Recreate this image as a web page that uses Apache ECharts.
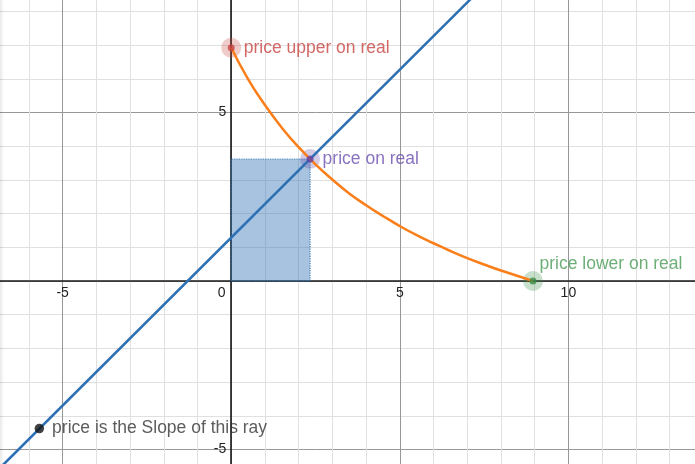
<!DOCTYPE html>
<html>
<head>
<meta charset="utf-8">
<script src="https://cdn.jsdelivr.net/npm/echarts@6/dist/echarts.min.js"></script>
<style>
html,body{margin:0;padding:0;background:#fff;width:695px;height:464px;overflow:hidden;position:relative;}
#c{position:absolute;left:-106px;top:-56px;width:843px;height:674px;}
#edge{position:absolute;left:0;top:0;width:4px;height:464px;background:linear-gradient(to right,rgba(0,0,0,0.09),rgba(0,0,0,0));pointer-events:none;}
</style>
</head>
<body>
<div id="c"></div>
<div id="edge"></div>
<script>
// ---- data ----
const curveX = [0, 0.5, 1, 1.5, 2, 2.5, 3, 3.5, 4, 4.5, 5, 5.5, 6, 6.5, 7, 7.5, 8, 8.5, 8.95];
const curveY = [6.92, 5.99, 5.22, 4.55, 3.97, 3.46, 3.01, 2.6, 2.25, 1.93, 1.63, 1.36, 1.12, 0.89, 0.68, 0.49, 0.31, 0.15, 0];
const rayX = [-7, 8];
const rayY = [-5.69, 9.26];
const upperPoint = [0, 6.92];
const pricePoint = [2.34, 3.62];
const lowerPoint = [8.95, 0];
const rayOrigin = [-5.69, -4.38];
const pointLabels = ['price upper on real', 'price on real', 'price lower on real', 'price is the Slope of this ray'];

const FONT = 'Liberation Sans, Arial, sans-serif';
const W = 843, H = 674;
const X_MIN = -10, X_MAX = 15, Y_MIN = -10, Y_MAX = 10;
const chart = echarts.init(document.getElementById('c'), null, {renderer: 'canvas'});

const curve = curveX.map((x, i) => [x, curveY[i]]);
const ray = rayX.map((x, i) => [x, rayY[i]]);
const rect = [[0, 0], [0, pricePoint[1]], [pricePoint[0], pricePoint[1]], [pricePoint[0], 0], [0, 0]];

// distance of the zero line from the grid's bottom / left edge
const xAxisOffset = -H * (0 - Y_MIN) / (Y_MAX - Y_MIN);
const yAxisOffset = -W * (0 - X_MIN) / (X_MAX - X_MIN);

function axisCommon(isX) {
  return {
    type: 'value',
    min: isX ? X_MIN : Y_MIN,
    max: isX ? X_MAX : Y_MAX,
    interval: 5,
    position: isX ? 'bottom' : 'left',
    offset: isX ? xAxisOffset : yAxisOffset,
    axisLine: {show: true, onZero: false, lineStyle: {color: '#1a1a1a', width: 1.6}},
    axisTick: {show: false},
    minorTick: {show: false, splitNumber: 5},
    splitLine: {show: true, lineStyle: {color: '#979797', width: 1}},
    minorSplitLine: {show: true, lineStyle: {color: '#e0e0e0', width: 1}},
    axisLabel: isX ? {
      fontFamily: FONT, fontSize: 14, color: '#222', margin: 5,
      showMinLabel: true, showMaxLabel: true,
      formatter: v => v === 0 ? '{z|0}' : String(v),
      rich: {z: {fontFamily: FONT, fontSize: 14, color: '#222', padding: [0, 19, 0, 0]}}
    } : {
      fontFamily: FONT, fontSize: 14, color: '#222', margin: 5,
      formatter: v => v === 0 ? '' : String(v)
    }
  };
}

function pointSeries(pt, color, halo, label, labelOpt, size) {
  const s = [];
  if (halo) {
    s.push({type: 'scatter', data: [pt], symbolSize: 20, silent: true, z: 2,
      itemStyle: {color: halo}});
  }
  s.push({type: 'scatter', data: [pt], symbolSize: size || 7, z: 6,
    itemStyle: {color: color},
    label: Object.assign({show: true, formatter: label, position: 'right', fontFamily: FONT,
      fontSize: 17.5, color: color}, labelOpt)});
  return s;
}

const option = {
  animation: false,
  backgroundColor: '#fff',
  grid: {left: 0, right: 0, top: 0, bottom: 0, containLabel: false, outerBoundsMode: 'none'},
  xAxis: axisCommon(true),
  yAxis: axisCommon(false),
  series: [
    {type: 'line', data: rect, symbol: 'none', z: 2,
      lineStyle: {color: '#2d70b3', width: 1.2, type: 'dotted', opacity: 0.8},
      areaStyle: {color: '#2d70b3', opacity: 0.42}},
    {type: 'line', data: ray, symbol: 'none', z: 3,
      lineStyle: {color: '#2d70b3', width: 2.5}},
    {type: 'line', data: curve, symbol: 'none', smooth: true, z: 3,
      lineStyle: {color: '#fa7e19', width: 2.5}},
    ...pointSeries(upperPoint, '#c74440', 'rgba(199,68,64,0.35)', pointLabels[0], {distance: 9, color: '#c74440'}),
    ...pointSeries(pricePoint, '#6042a6', 'rgba(96,66,166,0.35)', pointLabels[1], {distance: 9, color: '#6a4fb0'}),
    ...pointSeries(lowerPoint, '#388c46', 'rgba(56,140,70,0.35)', pointLabels[2], {distance: 3, offset: [0, -17], color: '#4a9a55'}),
    ...pointSeries(rayOrigin, '#111', null, pointLabels[3], {distance: 8, color: '#333'}, 9.5)
  ]
};
chart.setOption(option);
</script>
</body>
</html>
